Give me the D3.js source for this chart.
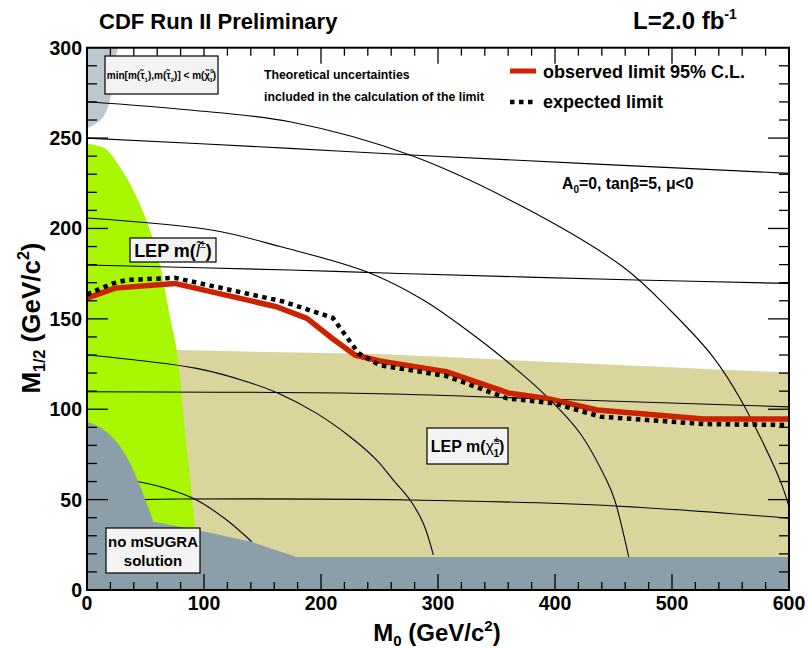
<!DOCTYPE html>
<html><head><meta charset="utf-8">
<script src="https://cdn.jsdelivr.net/npm/d3@7"></script>
<style>body{margin:0;background:#fff}svg{display:block;font-family:"Liberation Sans",Arial,sans-serif;font-weight:bold}</style>
</head><body><svg id="c" width="808" height="649"></svg>
<script>
// ---- data (M0, M1/2 in GeV/c^2) ----
const xTicks = [0,100,200,300,400,500,600];
const yTicks = [0,50,100,150,200,250,300];
const obsM0  = [0,24,75,162,188,210,229,250,307,360,393,436,527,600];
const obsM12 = [161.5,167,169.6,156.7,150.3,139,130,126.7,120.8,109,106,99.6,94.6,94.6];
const expM0  = [0,22,34,75,162,168,210,232,250,307,359,399,439,527,600];
const expM12 = [163.5,169.6,171.5,172.7,160.4,159.5,150.6,131,124.4,118.4,106,103.3,95.9,91.8,91.3];
// excluded regions: curved boundary + straight closing points
const staulspEdgeM0  = [26.8,22.5,19.7,14,6.8,0];
const staulspEdgeM12 = [300,289.4,271,261.8,257.7,255.4];
const staulspCloseM0 = [0], staulspCloseM12 = [300];
const lepSlepEdgeM0  = [0,11.1,17.1,32.5,43.6,53.8,62.4,70.9,76.7,82,92.3];
const lepSlepEdgeM12 = [247,245.3,243.4,229.5,215.7,199,179.8,151.2,132.7,99.6,34.8];
const lepSlepCloseM0 = [95,0], lepSlepCloseM12 = [0,0];
const lepChaM0   = [76.7,250,421,600,600,76.7];
const lepChaM12  = [132.7,130.5,125.5,120.3,0,0];
const noSolEdgeM0  = [0,11.1,22.5,33.9,43.8,51,56.7];
const noSolEdgeM12 = [93.1,90,83.9,73.7,59.9,48,37.8];
const noSolCloseM0  = [92.3,140.2,179.1,600,600,0];
const noSolCloseM12 = [33.5,26.7,18.3,18.3,0,0];
// iso-mass contours
const contours = [
  {m0:[0,173.5,277.5,600], m12:[250,244.3,240.6,230.5]},
  {m0:[0,88,173.5,276,372.6,458,498.3,535,559,592.3,600], m12:[270.1,265.5,259,240.6,212,178.8,154.9,129,105,60.8,46]},
  {m0:[0,107.7,165,239,287.4,335.9,364.4,393,421.4,444,451,463], m12:[205.8,199,190,176,160.4,138.3,123.5,107,86.7,60.8,49.8,18.3]},
  {m0:[0,173.5,267.5,470,600], m12:[179.8,177,175.1,171.5,169.6]},
  {m0:[0,93.7,139.3,163.5,196.3,224.8,247.6,261.8,276.1,287.4,296], m12:[130,122.6,114.7,108.8,97.7,84.8,71.9,60.8,49.8,36.9,19.4]},
  {m0:[0,250,400,600], m12:[109.7,108.6,105.5,101.3]},
  {m0:[43.8,68.1,93.7,119.4,140.8], m12:[59.9,56.2,49.8,38.7,26.7]},
  {m0:[45,79.5,275,451,600], m12:[50,50.3,49.8,46.5,39.7]}
];

const svg = d3.select("#c");
const x = d3.scaleLinear().domain([0,600]).range([87,789]);
const y = d3.scaleLinear().domain([0,300]).range([590,47.7]);
const zip = (a,b)=>a.map((v,i)=>[v,b[i]]);
const poly = d3.line().x(d=>x(d[0])).y(d=>y(d[1]));
const smooth = d3.line().x(d=>x(d[0])).y(d=>y(d[1])).curve(d3.curveCatmullRom);
const region = (e0,e1,c0,c1)=> smooth(zip(e0,e1)) + zip(c0,c1).map(d=>"L"+x(d[0])+","+y(d[1])).join("") + "Z";

svg.append("defs").append("clipPath").attr("id","pc").append("rect")
  .attr("x",87).attr("y",47.7).attr("width",702).attr("height",542.3);
const g = svg.append("g").attr("clip-path","url(#pc)");

g.append("path").attr("d",region(staulspEdgeM0,staulspEdgeM12,staulspCloseM0,staulspCloseM12)).attr("fill","#bcc8d0");
g.append("path").attr("d",poly(zip(lepChaM0,lepChaM12))+"Z").attr("fill","#dad59d");
g.append("path").attr("d",region(lepSlepEdgeM0,lepSlepEdgeM12,lepSlepCloseM0,lepSlepCloseM12)).attr("fill","#a8f600");
contours.forEach(c=>{
  g.append("path").attr("d",smooth(zip(c.m0,c.m12))).attr("fill","none").attr("stroke","#000").attr("stroke-width",1.1);
});
g.append("path").attr("d",region(noSolEdgeM0,noSolEdgeM12,noSolCloseM0,noSolCloseM12)).attr("fill","#8c9fa8");

g.append("path").attr("d",poly(zip(obsM0,obsM12))).attr("fill","none").attr("stroke","#cc2200").attr("stroke-width",5.5).attr("stroke-linejoin","round");
g.append("path").attr("d",poly(zip(expM0,expM12))).attr("fill","none").attr("stroke","#000").attr("stroke-width",4.5).attr("stroke-dasharray","4.5,4.5");

// frame
svg.append("rect").attr("x",87).attr("y",47.7).attr("width",702).attr("height",542.3).attr("fill","none").attr("stroke","#000").attr("stroke-width",2);

// ticks
const xMinor = d3.range(0,601,20), yMinor = d3.range(0,301,10);
const tk = svg.append("g").attr("stroke","#000").attr("stroke-width",1.3);
xMinor.forEach(v=>{
  const L = v%100===0?16:8;
  tk.append("line").attr("x1",x(v)).attr("x2",x(v)).attr("y1",590).attr("y2",590-L);
  tk.append("line").attr("x1",x(v)).attr("x2",x(v)).attr("y1",47.7).attr("y2",47.7+L);
});
yMinor.forEach(v=>{
  const L = v%50===0?21:10;
  tk.append("line").attr("x1",87).attr("x2",87+L).attr("y1",y(v)).attr("y2",y(v));
  tk.append("line").attr("x1",789).attr("x2",789-L).attr("y1",y(v)).attr("y2",y(v));
});
xTicks.forEach(v=>svg.append("text").attr("x",x(v)).attr("y",610).attr("text-anchor","middle").attr("font-size",19.5).text(v));
yTicks.forEach(v=>svg.append("text").attr("x",82).attr("y",y(v)+7).attr("text-anchor","end").attr("font-size",19.5).text(v));

// axis titles
const xt = svg.append("text").attr("x",437).attr("y",641).attr("text-anchor","middle").attr("font-size",24);
xt.append("tspan").text("M");
xt.append("tspan").attr("font-size",15).attr("dy",5).text("0");
xt.append("tspan").attr("dy",-5).text(" (GeV/c");
xt.append("tspan").attr("font-size",15).attr("dy",-10).text("2");
xt.append("tspan").attr("dy",10).text(")");
const yt = svg.append("text").attr("transform","translate(40,318) rotate(-90)").attr("text-anchor","middle").attr("font-size",26);
yt.append("tspan").text("M");
yt.append("tspan").attr("font-size",16).attr("dy",5).text("1/2");
yt.append("tspan").attr("dy",-5).text(" (GeV/c");
yt.append("tspan").attr("font-size",16).attr("dy",-11).text("2");
yt.append("tspan").attr("dy",11).text(")");

// header
svg.append("text").attr("x",99).attr("y",29).attr("font-size",22).text("CDF Run II Preliminary");
const lt = svg.append("text").attr("x",633).attr("y",29).attr("font-size",24);
lt.append("tspan").text("L=2.0 fb");
lt.append("tspan").attr("font-size",14).attr("dy",-10).text("-1");

// legend
svg.append("line").attr("x1",510).attr("x2",536).attr("y1",71).attr("y2",71).attr("stroke","#cc2200").attr("stroke-width",5);
svg.append("line").attr("x1",510).attr("x2",535).attr("y1",102).attr("y2",102).attr("stroke","#000").attr("stroke-width",4.5).attr("stroke-dasharray","4.5,4.5");
svg.append("text").attr("x",543).attr("y",78).attr("font-size",18).text("observed limit 95% C.L.");
svg.append("text").attr("x",543).attr("y",108).attr("font-size",18).text("expected limit");
svg.append("text").attr("x",264).attr("y",79).attr("font-size",12.3).text("Theoretical uncertainties");
svg.append("text").attr("x",264).attr("y",101).attr("font-size",12.3).text("included in the calculation of the limit");
const ap = svg.append("text").attr("x",562).attr("y",189).attr("font-size",15.8);
ap.append("tspan").text("A");
ap.append("tspan").attr("font-size",10).attr("dy",4).text("0");
ap.append("tspan").attr("dy",-4).text("=0, tan\u03B2=5, \u03BC<0");

// boxes
function box(x0,y0,x1,y1){svg.append("rect").attr("x",x0).attr("y",y0).attr("width",x1-x0).attr("height",y1-y0).attr("fill","#f3f3f3").attr("stroke","#000").attr("stroke-width",1.2);}
box(105,56,218,94);
const t1 = svg.append("text").attr("x",161.5).attr("y",79).attr("text-anchor","middle").attr("font-size",10);
t1.append("tspan").text("min[m(\u03C4\u0303");
t1.append("tspan").attr("font-size",6).attr("dy",3).text("1");
t1.append("tspan").attr("dy",-3).text("),m(\u03C4\u0303");
t1.append("tspan").attr("font-size",6).attr("dy",3).text("2");
t1.append("tspan").attr("dy",-3).text(")]  < m(\u03C7\u0303");
t1.append("tspan").attr("font-size",6).attr("dy",-6).text("0");
t1.append("tspan").attr("font-size",6).attr("dx",-4).attr("dy",9).text("1");
t1.append("tspan").attr("dy",-3).text(")");

box(130,238,216,262);
const t2 = svg.append("text").attr("x",173).attr("y",257).attr("text-anchor","middle").attr("font-size",18);
t2.append("tspan").text("LEP m(");
t2.append("tspan").attr("font-weight","normal").attr("font-style","italic").text("l\u0303");
t2.append("tspan").attr("font-size",11).attr("dy",-9).attr("font-weight","normal").text("\u00B1");
t2.append("tspan").attr("dy",9).text(")");

box(427,428,508,464);
const t3 = svg.append("text").attr("x",467.5).attr("y",452).attr("text-anchor","middle").attr("font-size",16);
t3.append("tspan").text("LEP m(");
t3.append("tspan").attr("font-weight","normal").text("\u03C7\u0303");
t3.append("tspan").attr("font-size",10).attr("dy",-8).attr("font-weight","normal").text("\u00B1");
t3.append("tspan").attr("font-size",10).attr("dx",-6).attr("dy",13).text("1");
t3.append("tspan").attr("dy",-5).text(")");

box(106,528,200,573);
svg.append("text").attr("x",153).attr("y",547).attr("text-anchor","middle").attr("font-size",15).text("no mSUGRA");
svg.append("text").attr("x",153).attr("y",566).attr("text-anchor","middle").attr("font-size",15).text("solution");
</script></body></html>
